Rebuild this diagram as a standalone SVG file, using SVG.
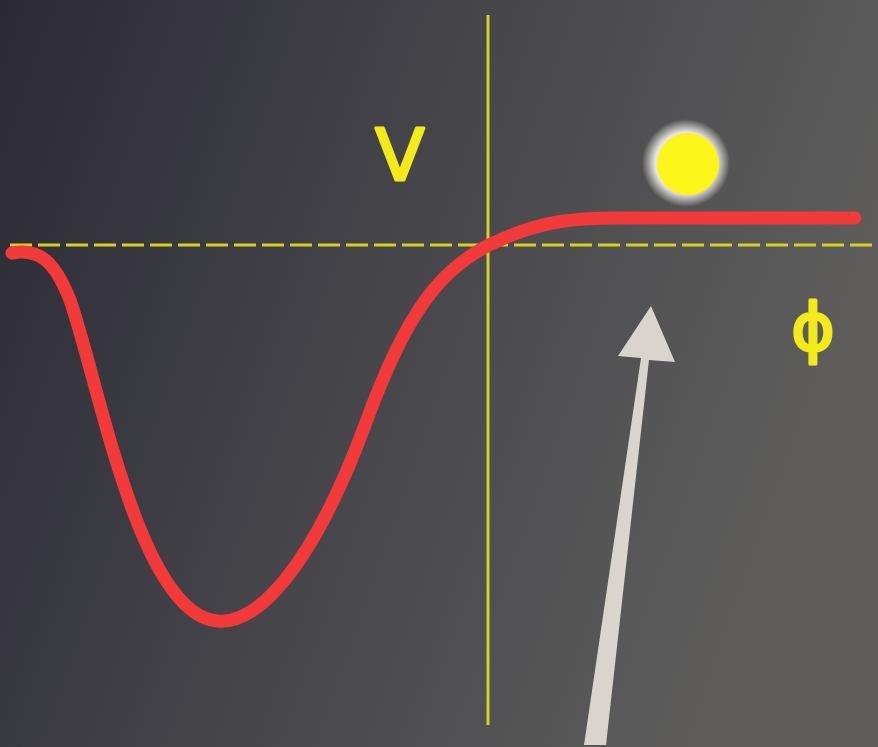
<svg xmlns="http://www.w3.org/2000/svg" width="878" height="747" viewBox="0 0 878 747">
<defs>
<linearGradient id="bg" x1="0" y1="0" x2="1" y2="0.3">
<stop offset="0" stop-color="#2b2a34"/>
<stop offset="0.5" stop-color="#45454a"/>
<stop offset="1" stop-color="#5e5d5c"/>
</linearGradient>
<radialGradient id="halo" cx="0.5" cy="0.5" r="0.5">
<stop offset="0.7" stop-color="#e8e6e0"/>
<stop offset="1" stop-color="#e8e6e0" stop-opacity="0"/>
</radialGradient>
<style>
.axis{stroke:#d6d020;stroke-width:3;fill:none}
.lbl{fill:#f2ea1a;stroke:#f2ea1a;stroke-width:3;stroke-linejoin:round;font-family:"DejaVu Sans",sans-serif}
</style>
</defs>
<rect width="878" height="747" fill="url(#bg)"/>
<g id="axes">
<line class="axis" x1="488" y1="15" x2="488" y2="725"/>
<line class="axis" x1="10" y1="245" x2="878" y2="245" stroke-dasharray="22 6"/>
</g>
<g id="curve">
<path d="M12,253 C40,248 55,262 70,300 C98,380 135,590 205,618 C255,638 315,560 365,425 C405,315 440,265 500,240 C540,222 570,218 620,218 L855,218" fill="none" stroke="#f23a3a" stroke-width="13" stroke-linecap="round"/>
</g>
<g id="ball">
<circle cx="686" cy="163" r="44" fill="url(#halo)"/>
<circle cx="688" cy="164" r="31" fill="#fbf51a"/>
</g>
<g id="arrow">
<polygon points="584,745 606,745 649,360 675,362 651,306 618,356 641,358" fill="#d9d5ce"/>
</g>
<text class="lbl" x="400" y="180" font-size="72" text-anchor="middle">V</text>
<text class="lbl" x="813" y="350" font-size="66" text-anchor="middle">ϕ</text>
</svg>
